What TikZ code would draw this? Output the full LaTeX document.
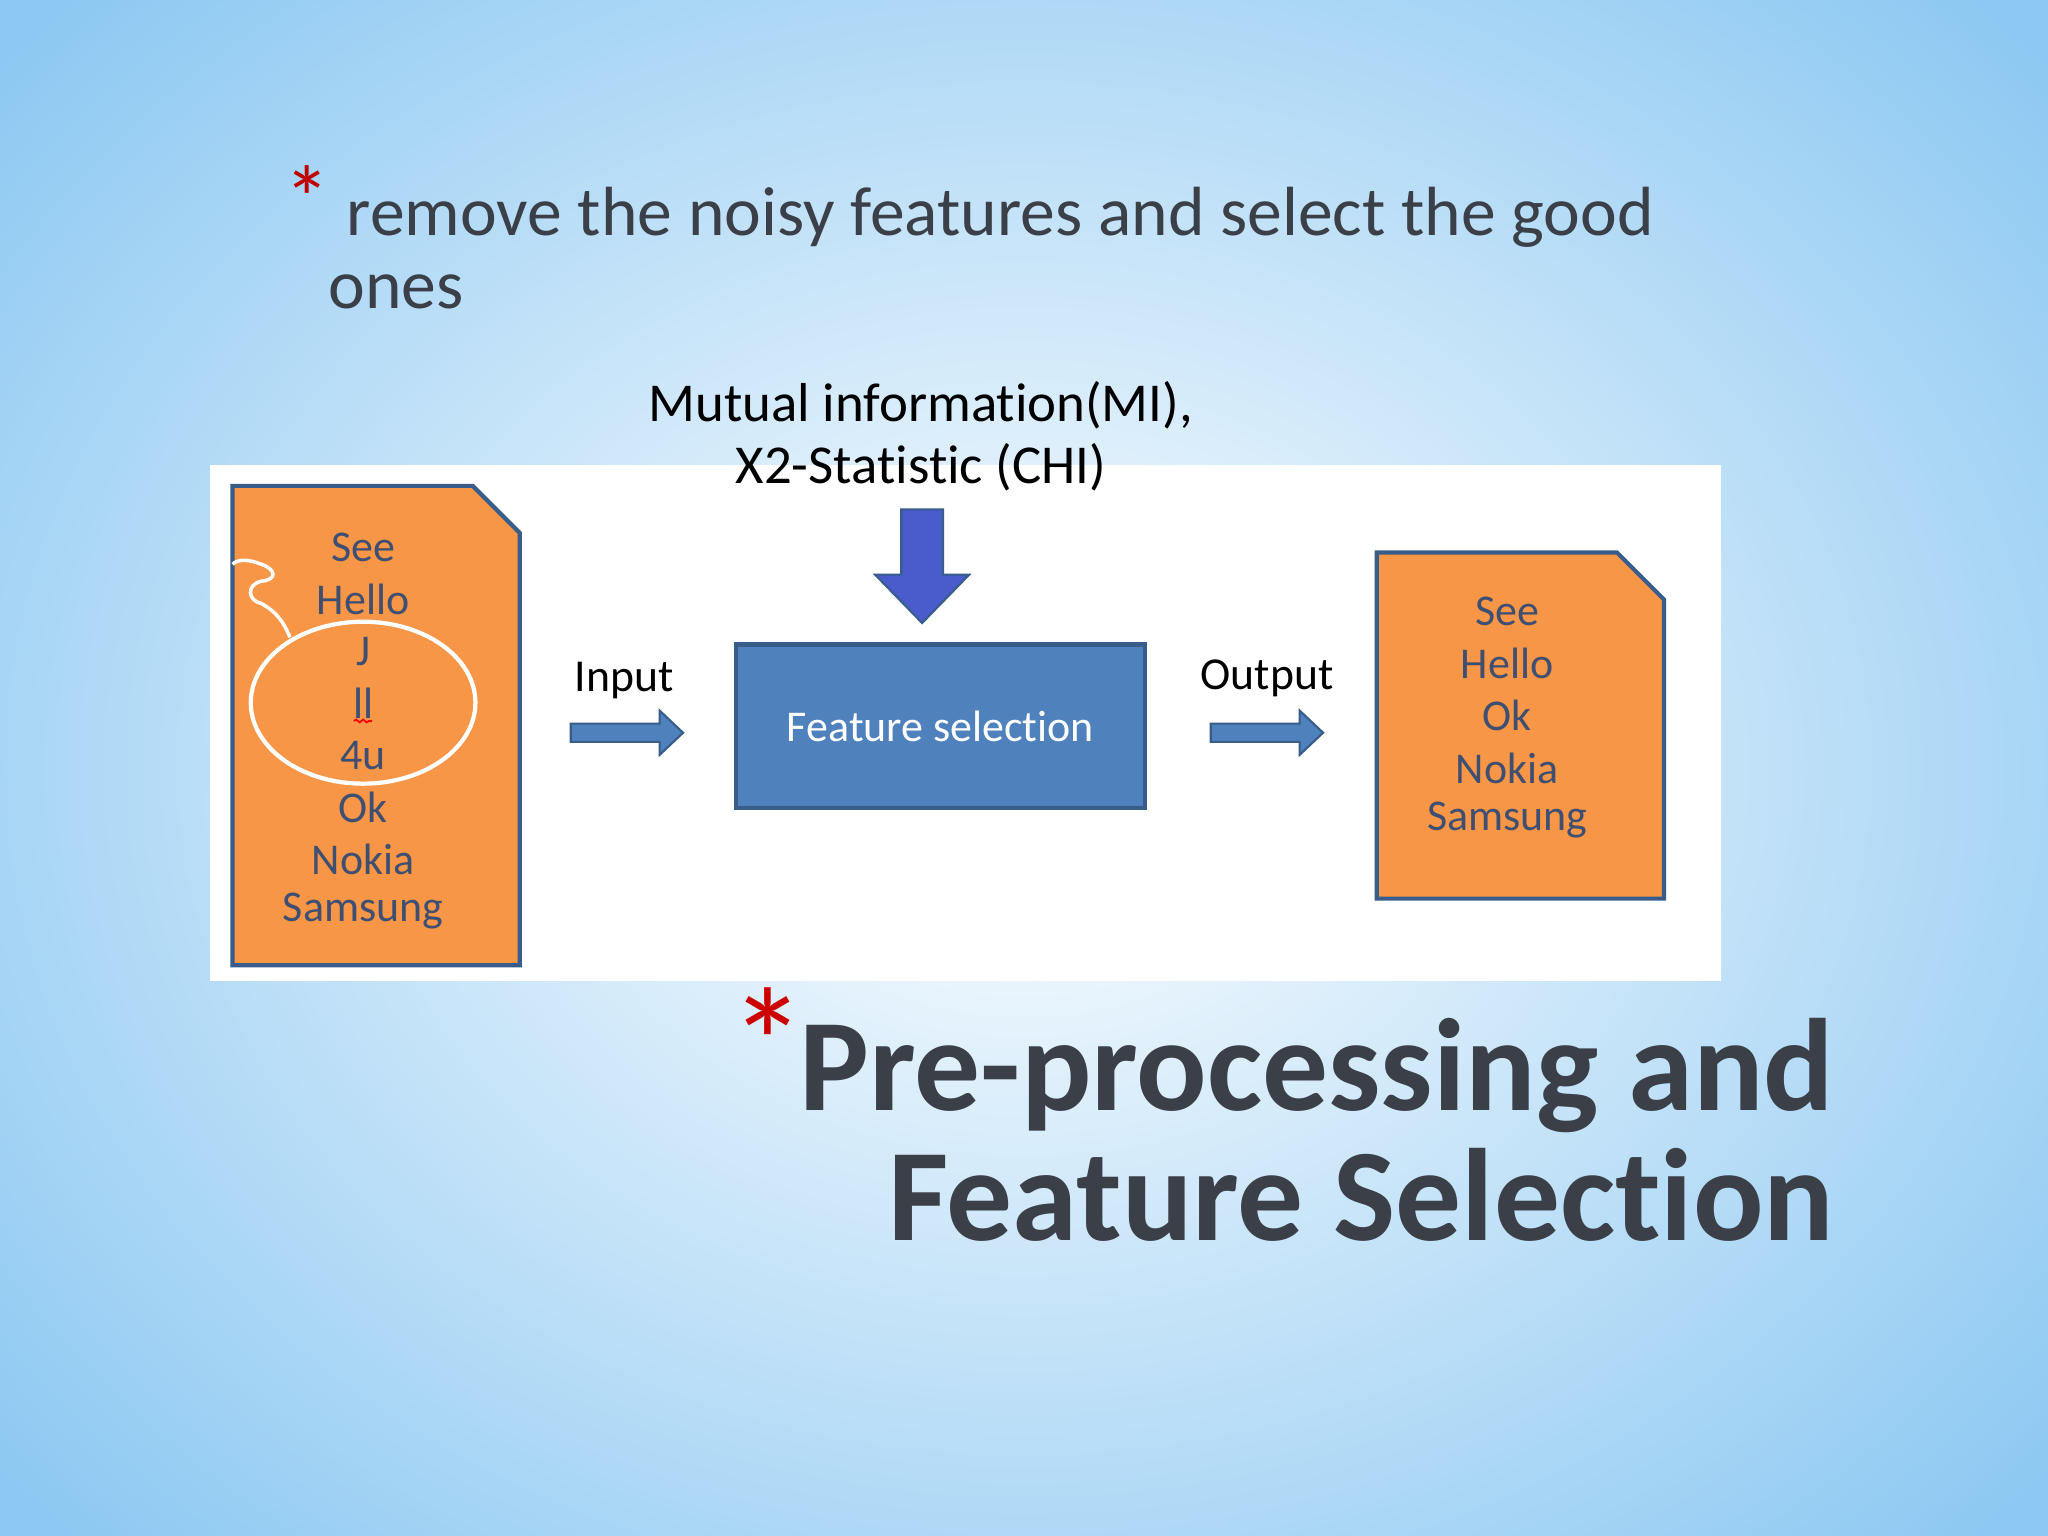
\documentclass[tikz,border=0pt]{standalone}
\usepackage{fontspec}
\setmainfont{Carlito}[Ligatures=NoCommon]
\usetikzlibrary{decorations.pathmorphing}
\definecolor{docorange}{HTML}{F79646}
\definecolor{docline}{HTML}{385D8A}
\definecolor{doctext}{HTML}{3F4F72}
\definecolor{boxblue}{HTML}{4F81BD}
\definecolor{downblue}{HTML}{4A5BCB}
\definecolor{skyblue}{HTML}{8CC8F2}
\definecolor{titlegrey}{HTML}{3A3F48}
\begin{document}
\begin{tikzpicture}[x=0.013061cm,y=-0.013061cm,
  doc/.style={fill=docorange,draw=docline,line width=1.2pt},
  word/.style={text=doctext,font=\fontsize{12.5}{14}\selectfont},
  blockarrow/.style={fill=boxblue,draw=docline,line width=0.6pt}]
  \tikzstyle{every node}=[inner sep=0pt]

  % background
  \useasboundingbox (0,0) rectangle (1568,1176);
  \begin{scope}
    \clip (0,0) rectangle (1568,1176);
    \shade[inner color=white,outer color=skyblue] (-250,-250) rectangle (1818,1426);
  \end{scope}
  \fill[white] (161,356) rectangle (1318,751);

  % bullet text
  \node[text=red!75!black,font=\fontsize{26}{26}\selectfont] (star1) at (235,152) {*};
  \node[anchor=base west,text=titlegrey,font=\fontsize{19.8}{22}\selectfont] (line1) at (265,180) {remove the noisy features and select the good};
  \node[anchor=base west,text=titlegrey,font=\fontsize{19.8}{22}\selectfont] (line2) at (251,236) {ones};

  % left document
  \draw[doc] (178,372) -- (362,372) -- (398,408) -- (398,739) -- (178,739) -- cycle;
  \foreach \w [count=\i from 0] in {See,Hello,J,ll,4u,Ok,Nokia,Samsung}
    \node[word] (lw\i) at (278,419+39.8*\i) {\w};
  \draw[white,line width=1.2pt] (278,538) ellipse (86 and 62);
  \draw[white,line width=1pt] (222,488) .. controls (215,470) and (205,465) .. (200,462)
    .. controls (190,460) and (188,448) .. (200,445) .. controls (212,444) and (212,436) .. (200,432)
    .. controls (190,428) and (182,428) .. (178,432);
  \draw[red,decorate,decoration={snake,amplitude=0.4pt,segment length=2pt},line width=0.5pt] (271,552) -- (285,552);

  % method label and down arrow
  \node[align=center,font=\fontsize{15.6}{17.5}\selectfont] (method) at (705,334)
    {Mutual information(MI),\\X2-Statistic (CHI)};
  \draw[fill=downblue,draw=docline,line width=0.6pt] (690,390) -- (722,390) -- (722,440) -- (742,440)
    -- (706,477) -- (670,440) -- (690,440) -- cycle;

  % feature selection box
  \node[fill=boxblue,draw=docline,line width=1.2pt,minimum width=313*0.013061cm,
    minimum height=125*0.013061cm,text=white,font=\fontsize{12.5}{14}\selectfont] (fs) at (720,556) {Feature selection};

  % input / output arrows
  \draw[blockarrow] (437,554) -- (505,554) -- (505,544) -- (523,561) -- (505,578) -- (505,568) -- (437,568) -- cycle;
  \node[font=\fontsize{13}{14}\selectfont] (inlabel) at (478,521) {Input};
  \draw[blockarrow] (927,554) -- (995,554) -- (995,544) -- (1013,561) -- (995,578) -- (995,568) -- (927,568) -- cycle;
  \node[font=\fontsize{13}{14}\selectfont] (outlabel) at (970,519) {Output};

  % right document
  \draw[doc] (1054,423) -- (1238,423) -- (1274,459) -- (1274,688) -- (1054,688) -- cycle;
  \foreach \w [count=\i from 0] in {See,Hello,Ok,Nokia,Samsung}
    \node[word] (rw\i) at (1154,468+40*\i) {\w};

  % title
  \node[text=red!80!black,font=\fontsize{44}{44}\selectfont] (star2) at (588,798) {*};
  \node[anchor=base east,text=titlegrey,font=\bfseries\fontsize{37.4}{45}\selectfont] (title) at (1405,850)
    {Pre-processing and};
  \node[anchor=base east,text=titlegrey,font=\bfseries\fontsize{37.4}{45}\selectfont] (title2) at (1405,950)
    {Feature Selection};
\end{tikzpicture}
\end{document}
